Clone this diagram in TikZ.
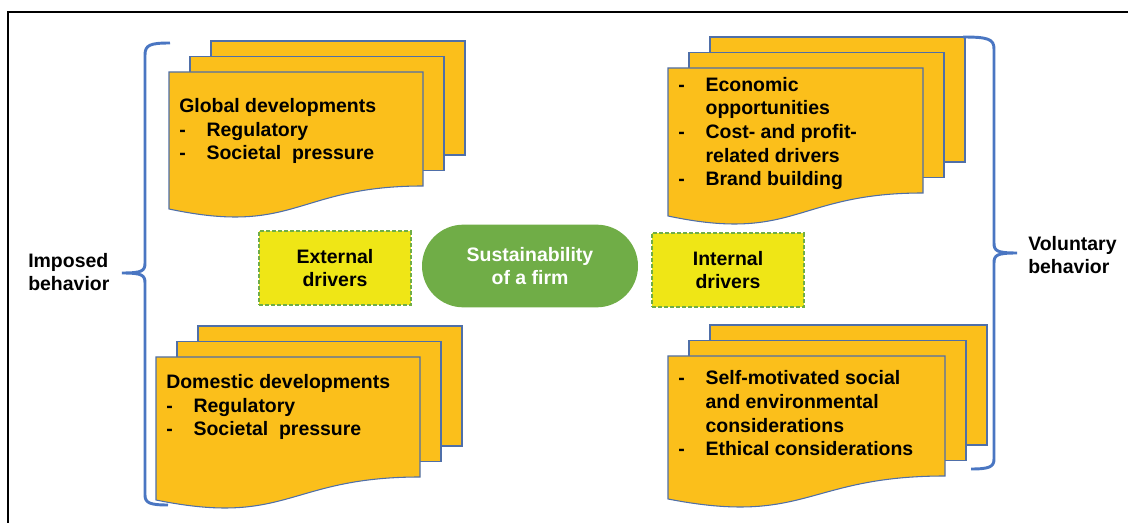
\documentclass[tikz,border=0pt]{standalone}
\usepackage{fontspec}
\setmainfont{Liberation Sans}
\usepackage{xcolor}
\definecolor{docgold}{HTML}{FBBF1B}
\definecolor{docedge}{HTML}{4F6FA8}
\definecolor{brkblue}{HTML}{4A76C2}
\definecolor{drvyellow}{HTML}{EFE616}
\definecolor{leafgreen}{HTML}{70AD47}

\newcommand{\bodyfont}{\fontsize{14.6}{17.8}\selectfont\bfseries}
\newcommand{\dashitem}{\makebox[20.5pt][l]{-}}
\newcommand{\dashgap}{\hspace*{20.5pt}}
% stack of three pages: left x, top y, width, height of right edge
\newcommand{\docstack}[4]{%
  \filldraw[docpage] ({#1+42},{#2-31}) rectangle ++(#3,#4);
  \filldraw[docpage] ({#1+21},{#2-15.5}) rectangle ++(#3,#4);
  \filldraw[docpage] (#1,#2) -- ({#1+#3},#2) -- ({#1+#3},{#2+#4})
    .. controls ({#1+#3/2},{#2+#4}) and ({#1+#3/2},{#2+#4+50}) .. (#1,{#2+#4+23}) -- cycle;
}

\tikzset{
  docpage/.style={fill=docgold, draw=docedge, line width=0.8pt},
  doctext/.style={anchor=base west, align=left, inner sep=0pt, font=\bodyfont},
  drvbox/.style={fill=drvyellow, draw=leafgreen, line width=1.6pt,
    dash pattern=on 3pt off 1.5pt, minimum width=114pt, minimum height=55pt,
    align=center, font=\bodyfont},
  brkline/.style={draw=brkblue, line width=2.2pt}
}

\begin{document}
\begin{tikzpicture}[x=0.75pt,y=-0.75pt]
  \useasboundingbox (0,0) rectangle (1128,523);
  \draw[line width=1.3pt] (8,523) -- (8,12) -- (1128,12);

  % page stacks
  \docstack{169}{72}{254}{114}
  \docstack{668}{68}{255}{125}
  \docstack{156}{357}{264}{120}
  \docstack{668}{356}{277}{120}

  % texts sit on the baseline of their last line
  \node[doctext] (glob) at (179,160)
    {Global developments\\ \dashitem Regulatory\\ \dashitem Societal\ \ pressure};
  \node[doctext] (econ) at (678,186)
    {\dashitem Economic\\ \dashgap opportunities\\ \dashitem Cost- and profit-\\
     \dashgap related drivers\\ \dashitem Brand building};
  \node[doctext] (dome) at (166,436)
    {Domestic developments\\ \dashitem Regulatory\\ \dashitem Societal\ \ pressure};
  \node[doctext] (self) at (678,456)
    {\dashitem Self-motivated social\\ \dashgap and environmental\\
     \dashgap considerations\\ \dashitem Ethical considerations};

  % centre
  \node[drvbox] (extdrv) at (335,268) {External\\drivers};
  \node[fill=leafgreen, text=white, rounded corners=31pt, minimum width=162pt,
    minimum height=62pt, align=center, font=\bodyfont] (firm) at (530,266)
    {Sustainability\\of a firm};
  \node[drvbox] (intdrv) at (728,270) {Internal\\drivers};

  % braces
  \draw[brkline] (170,43) .. controls (150,43) and (145,45) .. (145,55) -- (145,263)
    .. controls (145,271) and (142,273) .. (122,273)
    .. controls (142,273) and (145,275) .. (145,283) -- (145,495)
    .. controls (145,503) and (150,505) .. (168,505);
  \draw[brkline] (963,37) .. controls (988,37) and (994,39) .. (994,49) -- (994,243)
    .. controls (994,251) and (997,253) .. (1017,253)
    .. controls (997,253) and (994,255) .. (994,263) -- (994,459)
    .. controls (994,467) and (989,469) .. (971,469);

  \node[doctext, anchor=west] (imposed) at (28,272) {Imposed\\behavior};
  \node[doctext, anchor=west] (volunt) at (1028,255) {Voluntary\\behavior};
\end{tikzpicture}
\end{document}
